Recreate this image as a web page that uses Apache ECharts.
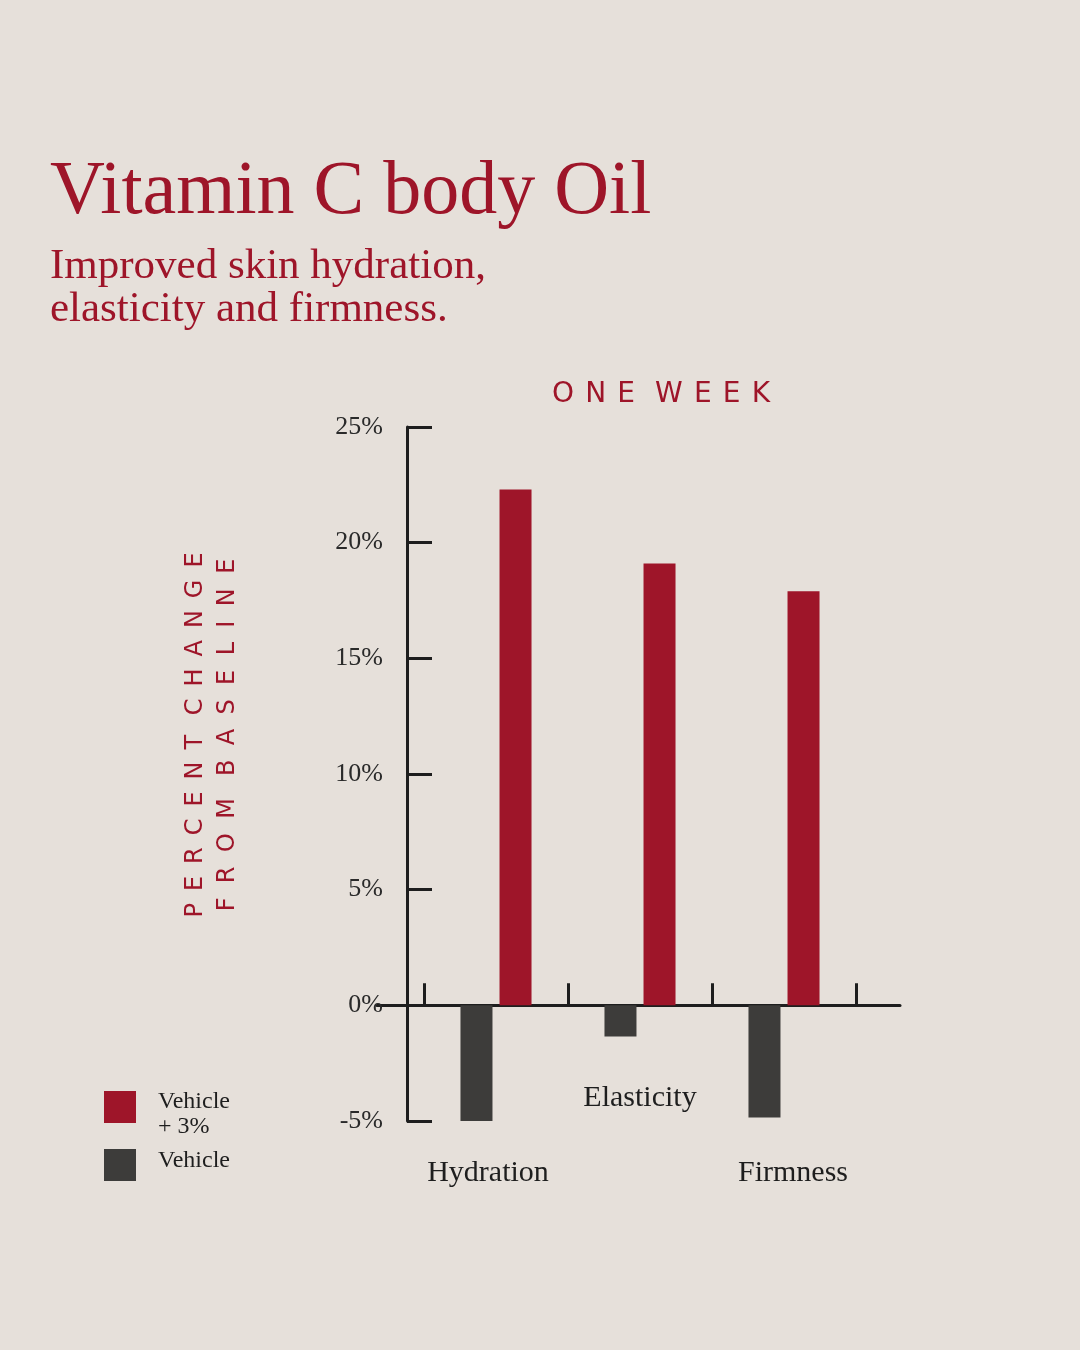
<!DOCTYPE html>
<html>
<head>
<meta charset="utf-8">
<title>Vitamin C body Oil</title>
<script src="https://cdn.jsdelivr.net/npm/echarts@6/dist/echarts.min.js"></script>
<style>
html, body { margin: 0; padding: 0; background: #e6e0da; }
#chart { width: 1080px; height: 1350px; }
</style>
</head>
<body>
<div id="chart"></div>
<script>
var categories = ['Hydration', 'Elasticity', 'Firmness'];
var vehicleValues = [-5.0, -1.35, -4.85];
var activeValues = [22.3, 19.1, 17.9];
var seriesNames = ['Vehicle', 'Vehicle + 3%'];
var yMin = -5, yMax = 25, yStep = 5;

var red = '#9e1529';
var grey = '#3d3c3a';
var ink = '#1e1e1e';
var serif = '"Liberation Serif", serif';
var sans = '"DejaVu Sans", sans-serif';

// fake letter spacing with thin spaces
function spaced(s, gap) {
	return s.split(' ').map(function (w) {
		return w.split('').join(gap);
	}).join(gap + ' ');
}

var catText = {fontFamily: serif, fontSize: 30, lineHeight: 75, color: ink};
var legendText = {fontFamily: serif, fontSize: 24, lineHeight: 25, color: ink};

var chart = echarts.init(document.getElementById('chart'));

var option = {
	backgroundColor: '#e6e0da',
	animation: false,
	title: [{
		text: 'Vitamin C body Oil',
		left: 45,
		top: 150,
		textStyle: {fontFamily: serif, fontSize: 76, fontWeight: 'normal', color: red}
	}, {
		text: 'Improved skin hydration,\nelasticity and firmness.',
		left: 45,
		top: 240,
		textStyle: {fontFamily: serif, fontSize: 43, lineHeight: 43, fontWeight: 'normal', color: red}
	}],
	legend: [{
		data: [seriesNames[1]],
		left: 99,
		top: 1076,
		orient: 'vertical',
		icon: 'rect',
		itemWidth: 32,
		itemHeight: 32,
		formatter: function () { return '{s| }\n{t|Vehicle}\n{t|+ 3%}'; },
		textStyle: {
			fontFamily: serif, fontSize: 24, color: ink, padding: [0, 0, 0, 17],
			rich: {
				s: {fontSize: 2, lineHeight: 14},
				t: legendText
			}
		}
	}, {
		data: [seriesNames[0]],
		left: 99,
		top: 1144,
		orient: 'vertical',
		icon: 'rect',
		itemWidth: 32,
		itemHeight: 32,
		formatter: function (name) { return '{t|' + name + '}\n{s| }'; },
		textStyle: {
			fontFamily: serif, fontSize: 24, color: ink, padding: [0, 0, 0, 17],
			rich: {
				s: {fontSize: 2, lineHeight: 8},
				t: legendText
			}
		}
	}],
	graphic: [{
		type: 'text',
		x: 661,
		y: 395,
		style: {
			text: spaced('ONE WEEK', '\u2009\u200a\u200a'),
			fontFamily: sans,
			fontSize: 28,
			fill: red,
			textAlign: 'center',
			textVerticalAlign: 'middle'
		}
	}, {
		type: 'text',
		x: 212,
		y: 735,
		rotation: Math.PI / 2,
		style: {
			text: spaced('PERCENT CHANGE', '\u2009\u2009\u200a') + '\n' + spaced('FROM BASELINE', '\u2009\u2009\u200a\u200a'),
			fontFamily: sans,
			fontSize: 24,
			lineHeight: 32,
			fill: red,
			textAlign: 'center',
			textVerticalAlign: 'middle'
		}
	}],
	grid: [{
		left: 424,
		right: 224,
		top: 427,
		bottom: 229
	}, {
		left: 377,
		right: 180,
		top: 427,
		bottom: 229
	}],
	xAxis: [{
		type: 'category',
		data: categories,
		gridIndex: 0,
		axisLine: {show: true, onZero: true, lineStyle: {color: ink, width: 3}},
		axisTick: {show: true, inside: true, length: 22, lineStyle: {color: ink, width: 3}},
		axisLabel: {
			interval: 0,
			margin: -60,
			fontFamily: serif,
			fontSize: 30,
			lineHeight: 75,
			color: ink,
			// middle label sits higher, the outer two drop a line
			formatter: function (v, i) {
				if (i === 0) return '\n{l|' + v + '}';
				if (i === 2) return '\n{r|' + v + '}';
				return '{c|' + v + '}';
			},
			rich: {
				l: Object.assign({padding: [0, 16, 0, 0]}, catText),
				c: catText,
				r: Object.assign({padding: [0, 0, 0, 18]}, catText)
			}
		},
		splitLine: {show: false}
	}, {
		// longer baseline running past the y axis
		type: 'value',
		gridIndex: 1,
		min: 0,
		max: 1,
		axisLine: {onZero: true, onZeroAxisIndex: 1, lineStyle: {color: ink, width: 3}},
		axisTick: {show: false},
		axisLabel: {show: false},
		splitLine: {show: false}
	}],
	yAxis: [{
		type: 'value',
		gridIndex: 0,
		min: yMin,
		max: yMax,
		interval: yStep,
		offset: 17,
		axisLine: {show: true, onZero: false, lineStyle: {color: ink, width: 3}},
		axisTick: {show: true, inside: true, length: 25, lineStyle: {color: ink, width: 3}},
		axisLabel: {
			margin: 24,
			fontFamily: serif,
			fontSize: 26,
			color: '#2a2a2a',
			formatter: function (v) { return v + '%'; }
		},
		splitLine: {show: false}
	}, {
		type: 'value',
		gridIndex: 1,
		min: yMin,
		max: yMax,
		show: false
	}],
	series: [{
		name: seriesNames[0],
		type: 'bar',
		xAxisIndex: 0,
		yAxisIndex: 0,
		data: vehicleValues,
		barWidth: 32,
		barGap: '22%',
		itemStyle: {color: grey}
	}, {
		name: seriesNames[1],
		type: 'bar',
		xAxisIndex: 0,
		yAxisIndex: 0,
		data: activeValues,
		barWidth: 32,
		barGap: '22%',
		itemStyle: {color: red}
	}]
};

chart.setOption(option);
</script>
</body>
</html>
